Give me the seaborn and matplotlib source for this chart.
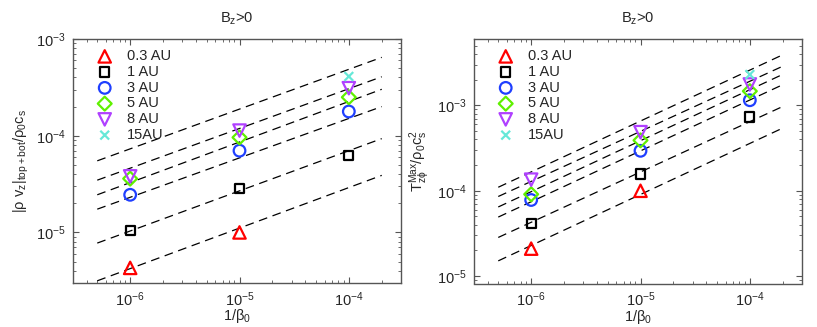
import numpy as np
import pandas as pd
import matplotlib
matplotlib.use("Agg")
import matplotlib.pyplot as plt
from matplotlib.markers import MarkerStyle
from matplotlib.ticker import LogLocator, NullFormatter
import seaborn as sns

sns.set_style("white")
plt.rcParams['font.family'] = ['Liberation Sans', 'DejaVu Sans']
plt.rcParams['mathtext.fontset'] = 'custom'
plt.rcParams['mathtext.rm'] = 'Liberation Sans'
plt.rcParams['mathtext.it'] = 'Liberation Sans:italic'
plt.rcParams['mathtext.bf'] = 'Liberation Sans:bold'
plt.rcParams['mathtext.default'] = 'regular'

# ---- data ----
series = ["0.3 AU", "1 AU", "3 AU", "5 AU", "8 AU", "15AU"]
colors = ["#ff0000", "#000000", "#1f3fff", "#5ff000", "#b040ff", "#66e8d8"]
markers = ["^", "s", "o", "D", "v", "x"]
marker_area = [80, 45, 70, 50, 80, 40]

beta_inv = [1e-6, 1e-5, 1e-4]

# left panel: |rho v_z| / rho0 cs
left_x = {
    "0.3 AU": [1e-6, 1e-5],
    "1 AU": [1e-6, 1e-5, 1e-4],
    "3 AU": [1e-6, 1e-5, 1e-4],
    "5 AU": [1e-6, 1e-5, 1e-4],
    "8 AU": [1e-6, 1e-5, 1e-4],
    "15AU": [1e-4],
}
left_y = {
    "0.3 AU": [4.3e-6, 1.0e-5],
    "1 AU": [1.05e-5, 2.85e-5, 6.2e-5],
    "3 AU": [2.45e-5, 7.0e-5, 1.78e-4],
    "5 AU": [3.6e-5, 9.6e-5, 2.5e-4],
    "8 AU": [3.8e-5, 1.13e-4, 3.1e-4],
    "15AU": [4.1e-4],
}
# right panel: T_zphi^Max / rho0 cs^2
right_x = left_x
right_y = {
    "0.3 AU": [2.1e-5, 1.0e-4],
    "1 AU": [4.1e-5, 1.57e-4, 7.3e-4],
    "3 AU": [7.8e-5, 2.94e-4, 1.15e-3],
    "5 AU": [9.1e-5, 3.9e-4, 1.47e-3],
    "8 AU": [1.35e-4, 4.86e-4, 1.76e-3],
    "15AU": [2.3e-3],
}

# dashed reference lines (end points)
fit_x = [5e-7, 2e-4]
left_fit_start = [5.5e-5, 3.47e-5, 2.45e-5, 1.74e-5, 7.76e-6, 3.16e-6]
left_fit_end = [6.46e-4, 4.07e-4, 3.02e-4, 2.0e-4, 9.33e-5, 3.89e-5]
right_fit_start = [1.10e-4, 8.57e-5, 6.46e-5, 4.92e-5, 2.84e-5, 1.51e-5]
right_fit_end = [3.92e-3, 2.88e-3, 2.31e-3, 1.75e-3, 9.72e-4, 5.43e-4]

title = "B$_z$>0"
xlabel = "1/β$_0$"
left_ylabel = "|ρ v$_z$|$_{top+bot}$/ρ$_0$c$_s$"
right_ylabel = "T$_{zϕ}^{Max}$/ρ$_0$c$_s^2$"

fig = plt.figure(figsize=(8.17, 3.27), dpi=100)
axL = fig.add_axes([73/817, 44/327, 328/817, 244/327])
axR = fig.add_axes([474/817, 43.5/327, 328/817, 244.5/327])


def draw(ax, xs, ys, fs, fe, ylim, ylabel):
    for s, e in zip(fs, fe):
        d = pd.DataFrame({"x": fit_x, "y": [s, e]})
        sns.lineplot(data=d, x="x", y="y", ax=ax, color="black", lw=0.9,
                     dashes=False, legend=False)
        ax.lines[-1].set_dashes([7, 4.5])
    for name, col, m, ms in zip(series, colors, markers, marker_area):
        d = pd.DataFrame({"x": xs[name], "y": ys[name]})
        sns.scatterplot(data=d, x="x", y="y", ax=ax, color=col,
                        marker=MarkerStyle(m, fillstyle="none"),
                        s=ms, linewidths=1.6, label=name, zorder=3)
    ax.set_xscale("log")
    ax.set_yscale("log")
    ax.set_xlim(3e-7, 3e-4)
    ax.set_ylim(*ylim)
    ax.set_xticks(beta_inv)
    ax.xaxis.set_minor_locator(LogLocator(base=10, subs=np.arange(2, 10)))
    ax.yaxis.set_minor_locator(LogLocator(base=10, subs=np.arange(2, 10)))
    ax.xaxis.set_minor_formatter(NullFormatter())
    ax.yaxis.set_minor_formatter(NullFormatter())
    ax.tick_params(which="both", direction="in", top=True, right=True,
                   bottom=True, left=True, labelsize=10.5, color="#555555")
    ax.tick_params(which="major", length=4, width=0.8, pad=5)
    ax.tick_params(which="minor", length=2.5, width=0.6)
    for sp in ax.spines.values():
        sp.set_color("#555555")
        sp.set_linewidth(1.0)
    ax.set_title(title, fontsize=10.5, pad=12)
    ax.set_xlabel(xlabel, fontsize=10.5, labelpad=-1)
    ax.set_ylabel(ylabel, fontsize=10.5, labelpad=4)
    ax.legend(loc="upper left", frameon=False, fontsize=10.5,
              labelspacing=0.12, handletextpad=0.75, borderaxespad=0.3,
              handlelength=1.6, bbox_to_anchor=(0.03, 1.0))


draw(axL, left_x, left_y, left_fit_start, left_fit_end, (3e-6, 1e-3), left_ylabel)
draw(axR, right_x, right_y, right_fit_start, right_fit_end, (8.2e-6, 6e-3), right_ylabel)

fig.savefig("out.png", dpi=100)
